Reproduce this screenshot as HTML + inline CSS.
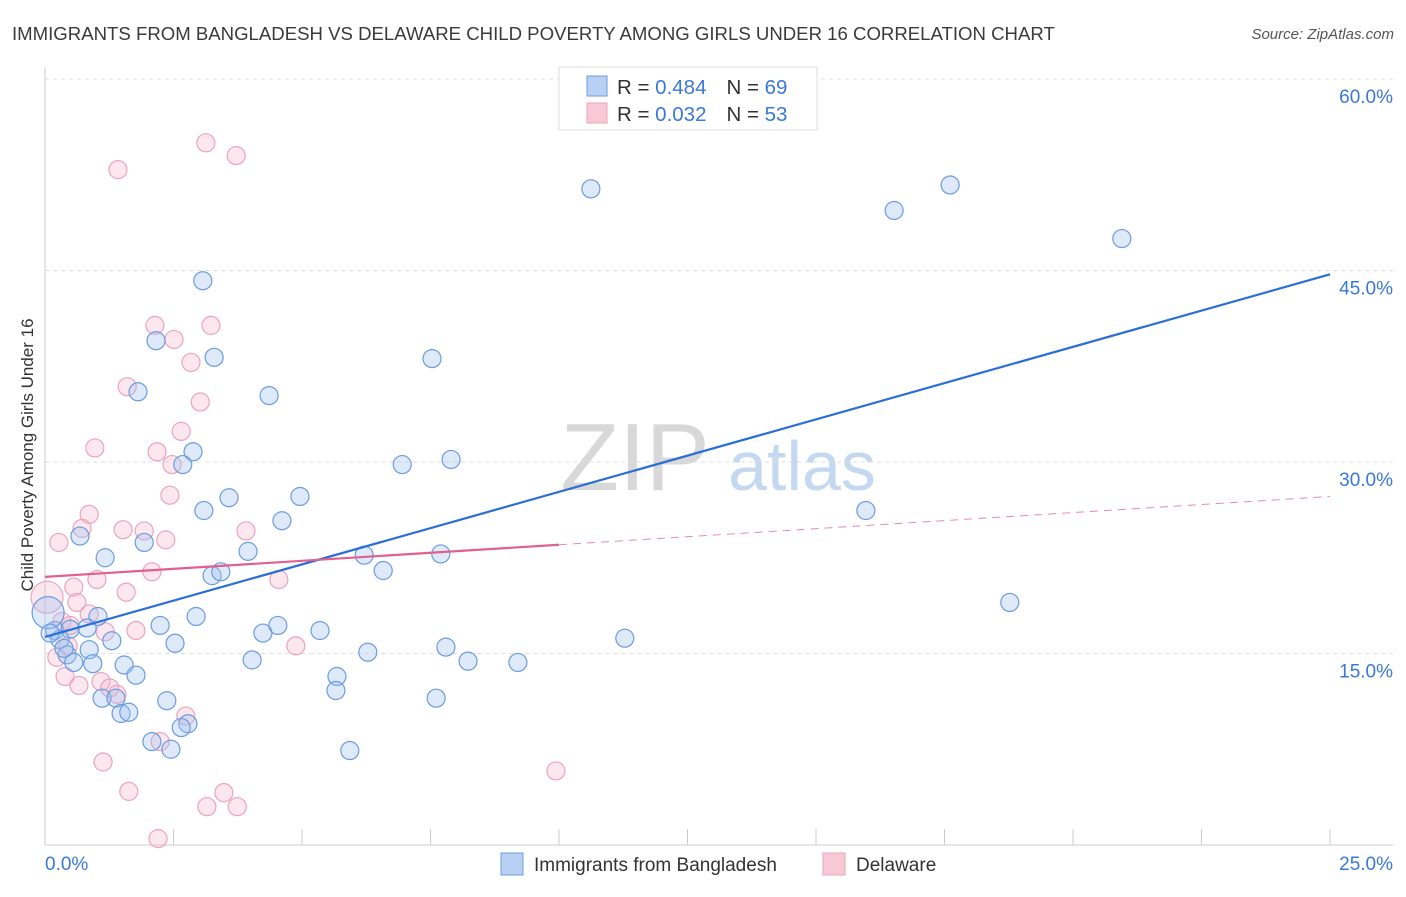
<!DOCTYPE html>
<html><head><meta charset="utf-8"><style>
body{margin:0;background:#fff;font-family:"Liberation Sans",sans-serif}
svg text{font-family:"Liberation Sans",sans-serif}
</style></head><body>
<svg id="chart" width="1406" height="892" xmlns="http://www.w3.org/2000/svg">
<text x="12" y="40" font-size="18.6" fill="#3a3a3a">IMMIGRANTS FROM BANGLADESH VS DELAWARE CHILD POVERTY AMONG GIRLS UNDER 16 CORRELATION CHART</text>
<text x="1394" y="39" font-size="15" font-style="italic" fill="#555" text-anchor="end">Source: ZipAtlas.com</text>
<g>
<text x="635" y="490" font-size="96" font-family="Liberation Serif, serif" fill="#d8d8d8" text-anchor="middle">ZIP</text>
<text x="802" y="490" font-size="70" fill="#c4d8f2" text-anchor="middle">atlas</text>
</g>
<g id="grid"></g><g id="axes"></g><g id="marks"></g>
<text transform="translate(33,455) rotate(-90)" font-size="17" fill="#333" text-anchor="middle">Child Poverty Among Girls Under 16</text>
<g>
<rect x="559" y="67" width="258" height="63" fill="#fff" stroke="#ddd"/>
<rect x="587" y="76" width="20" height="20" fill="#b8d0f4" stroke="#6f9ee0"/>
<rect x="587" y="103" width="20" height="20" fill="#f8c8d6" stroke="#eca3bb"/>
<text x="617" y="94" font-size="20.5" fill="#333">R = <tspan fill="#3a78d8">0.484</tspan><tspan dx="20">N = </tspan><tspan fill="#3a78d8">69</tspan></text>
<text x="617" y="121" font-size="20.5" fill="#333">R = <tspan fill="#3a78d8">0.032</tspan><tspan dx="20">N = </tspan><tspan fill="#3a78d8">53</tspan></text>
</g>
<g>
<rect x="501" y="853" width="22" height="22" fill="#b8d0f4" stroke="#6f9ee0"/>
<text x="534" y="871" font-size="19" fill="#333">Immigrants from Bangladesh</text>
<rect x="823" y="853" width="22" height="22" fill="#f8c8d6" stroke="#eca3bb"/>
<text x="856" y="871" font-size="19" fill="#333">Delaware</text>
</g>
</svg>
<script>
const yTicks=[15,30,45,60];
const yTickLabels=["15.0%","30.0%","45.0%","60.0%"];
const xTicks=[0,2.5,5,7.5,10,12.5,15,17.5,20,22.5,25];
const blueX=[10.62,16.52,17.61,20.95,3.07,2.16,3.29,7.53,1.81,4.36,6.95,7.90,2.88,2.68,3.58,4.96,3.09,4.61,15.97,0.68,1.93,1.17,3.95,6.21,7.70,6.58,3.25,3.42,18.77,1.03,2.94,2.24,4.53,4.24,5.35,11.28,1.30,2.53,0.19,0.49,0.82,0.29,0.86,0.43,7.80,6.28,4.03,8.23,9.20,0.56,0.93,1.54,1.77,5.68,5.66,2.37,1.11,1.38,7.61,1.48,1.63,2.78,2.65,2.08,2.45,5.93,0.06,0.10,0.37];
const blueY=[51.4,49.7,51.7,47.5,44.2,39.5,38.2,38.1,35.5,35.2,29.8,30.2,30.8,29.8,27.2,27.3,26.2,25.4,26.2,24.2,23.7,22.5,23.0,22.7,22.8,21.5,21.1,21.4,19.0,17.9,17.9,17.2,17.2,16.6,16.8,16.2,16.0,15.8,16.8,16.9,17.0,16.1,15.3,14.9,15.5,15.1,14.5,14.4,14.3,14.3,14.2,14.1,13.3,13.2,12.1,11.3,11.5,11.5,11.5,10.3,10.4,9.5,9.2,8.1,7.5,7.4,18.2,16.6,15.4];
const pinkX=[1.42,3.13,3.72,2.14,3.23,2.51,2.84,1.60,3.02,2.65,0.97,2.18,2.47,2.43,0.86,0.72,1.52,1.93,3.91,2.35,0.27,2.08,1.01,4.55,0.56,1.58,0.62,0.04,0.86,0.33,0.49,1.77,1.17,4.88,0.23,0.39,0.66,1.09,1.26,1.40,2.74,2.24,1.13,1.63,3.48,3.15,3.74,2.20,9.94,0.45];
const pinkY=[52.9,55.0,54.0,40.7,40.7,39.6,37.8,35.9,34.7,32.4,31.1,30.8,29.8,27.4,25.9,24.8,24.7,24.6,24.6,23.9,23.7,21.4,20.8,20.8,20.2,19.8,19.0,19.4,18.1,17.5,17.2,16.8,16.7,15.6,14.7,13.2,12.5,12.8,12.3,11.8,10.1,8.1,6.5,4.2,4.1,3.0,3.0,0.5,5.8,15.6];
const blueTrend=[16.3,44.7];
const pinkTrend=[21.0,27.3];
const pinkSolidEnd=10;
const X=v=>45+v/25*1285, Y=v=>845-v/15*191.5;
const NS="http://www.w3.org/2000/svg";
function mk(parent,tag,attrs){const e=document.createElementNS(NS,tag);for(const k in attrs)e.setAttribute(k,attrs[k]);document.getElementById(parent).appendChild(e);return e;}
yTicks.forEach((t,i)=>{
 const g=mk('grid','line',{x1:45,x2:1393,y1:Y(t),y2:Y(t),stroke:'#ddd','stroke-dasharray':'4,4'});
 
 
 const tx=mk('grid','text',{x:1393,y:Y(t)+24,'font-size':19,fill:'#3a78d8','text-anchor':'end'});
 tx.textContent=yTickLabels[i];
 
 
});
const ya=mk('axes','line',{x1:45,x2:45,y1:67,y2:845,stroke:'#ccc'});


const xa=mk('axes','line',{x1:45,x2:1393,y1:845,y2:845,stroke:'#ccc'});


xTicks.forEach(t=>{const l=mk('axes','line',{x1:X(t),x2:X(t),y1:829,y2:845,stroke:'#ccc'});
 
 });
const xl0=mk('axes','text',{x:45,y:870,'font-size':19,fill:'#3a78d8'});xl0.textContent=xTicks[0].toFixed(1)+'%';


const xl1=mk('axes','text',{x:1393,y:870,'font-size':19,fill:'#3a78d8','text-anchor':'end'});xl1.textContent=xTicks[xTicks.length-1].toFixed(1)+'%';


pinkX.forEach((x,i)=>{const r=(x<0.1)?16:9;const c=mk('marks','circle',{cx:X(x),cy:Y(pinkY[i]),r:r,fill:'rgba(245,175,200,0.3)',stroke:'#eba4bc','stroke-width':1.2});
 
 });
blueX.forEach((x,i)=>{const r=(x<0.1&&blueY[i]>18)?16:9;const c=mk('marks','circle',{cx:X(x),cy:Y(blueY[i]),r:r,fill:'rgba(160,195,240,0.35)',stroke:'#6b9be0','stroke-width':1.2});
 
 });
const bl=mk('marks','line',{x1:X(0),y1:Y(blueTrend[0]),x2:X(25),y2:Y(blueTrend[1]),stroke:'#2a6fd6','stroke-width':2.2});


const pm=pinkTrend[0]+(pinkTrend[1]-pinkTrend[0])*pinkSolidEnd/25;
const pl=mk('marks','line',{x1:X(0),y1:Y(pinkTrend[0]),x2:X(pinkSolidEnd),y2:Y(pm),stroke:'#e0608e','stroke-width':2.2});


const pd=mk('marks','line',{x1:X(pinkSolidEnd),y1:Y(pm),x2:X(25),y2:Y(pinkTrend[1]),stroke:'#e88aac','stroke-width':1,'stroke-dasharray':'8,6'});


</script>
</body></html>
